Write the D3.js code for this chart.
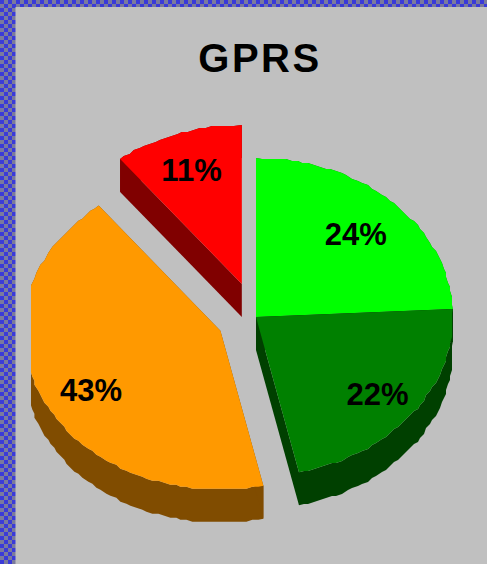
<!DOCTYPE html>
<html lang="en">
<head>
    <meta charset="UTF-8">
    <title>GPRS</title>
    <script src="https://cdn.jsdelivr.net/npm/d3@7"></script>
    <style>
        html, body { margin: 0; padding: 0; background: #c0c0c0; }
        svg { display: block; }
        text { font-family: 'Liberation Sans', Arial, sans-serif; font-weight: bold; fill: #000; }
    </style>
</head>
<body>
<script>
    const title = "GPRS";
    const slices = ["green", "dark green", "orange", "red"];
    const values = [24.2, 22.3, 42.9, 10.6];
    const labels = ["24%", "22%", "43%", "11%"];
    const explode = [0, 0, 0.2, 0.22];
    const topColors = ["#00ff00", "#008000", "#ff9900", "#ff0000"];
    const sideColors = ["#008000", "#004000", "#804c00", "#800000"];

    const width = 487, height = 564;
    const cx = 256, cy = 317, rx = 197, ry = 159, depth = 33;
    const labelNudge = [[-2, 3], [4, 5], [4, 8], [-2, -1]];

    const svg = d3.select("body").append("svg").attr("width", width).attr("height", height);
    const defs = svg.append("defs");

    // dithered blue slide background
    const cell = 4;
    const pattern = defs.append("pattern")
        .attr("id", "dither")
        .attr("patternUnits", "userSpaceOnUse")
        .attr("width", cell * 2).attr("height", cell * 2);
    pattern.append("rect").attr("width", cell * 2).attr("height", cell * 2).attr("fill", "#7a7a9c");
    pattern.append("rect").attr("width", cell).attr("height", cell).attr("fill", "#3a3ad8");
    pattern.append("rect").attr("x", cell).attr("y", cell).attr("width", cell).attr("height", cell).attr("fill", "#3a3ad8");

    // the original plot area cuts the pie off on the left
    defs.append("clipPath").attr("id", "plot")
        .append("rect").attr("x", 31).attr("y", 0).attr("width", width).attr("height", height);

    svg.append("rect").attr("width", width).attr("height", height).attr("fill", "url(#dither)");
    svg.append("rect").attr("x", 15.5).attr("y", 7).attr("width", width).attr("height", height).attr("fill", "#c0c0c0");

    svg.append("text")
        .attr("x", 260).attr("y", 72)
        .attr("text-anchor", "middle")
        .attr("font-size", 40)
        .attr("letter-spacing", 2.5)
        .text(title);

    const pie = d3.pie().sort(null).value(d => d)(values);

    const px = a => rx * Math.sin(a);
    const py = a => -ry * Math.cos(a);
    const line = d3.line();

    // stepped rim, the source picture is not a clean ellipse
    const snap = v => Math.round(v / 2) * 2;
    function rim(d) {
        const inner = d3.range(d.startAngle + 0.03, d.endAngle - 0.015, 0.03)
            .map(a => [snap(px(a)), snap(py(a))]);
        return [[px(d.startAngle), py(d.startAngle)], ...inner, [px(d.endAngle), py(d.endAngle)]];
    }
    const drop = pts => pts.map(p => [p[0], p[1] + depth]);

    const pieLayer = svg.append("g").attr("clip-path", "url(#plot)");

    const groups = pieLayer.selectAll("g.slice")
        .data(pie)
        .join("g")
        .attr("class", "slice")
        .attr("transform", (d, i) => {
            const mid = (d.startAngle + d.endAngle) / 2;
            return `translate(${cx + explode[i] * px(mid)},${cy + explode[i] * py(mid)})`;
        });

    // walls first
    groups.append("path")
        .attr("d", d => line([...rim(d), ...drop(rim(d)).reverse()]) + "Z")
        .attr("fill", (d, i) => sideColors[i]);
    groups.append("path")
        .attr("d", d => line([[0, 0], rim(d)[0], drop(rim(d))[0], [0, depth]]) + "Z")
        .attr("fill", (d, i) => sideColors[i]);
    groups.append("path")
        .attr("d", d => line([[0, 0], rim(d).at(-1), drop(rim(d)).at(-1), [0, depth]]) + "Z")
        .attr("fill", (d, i) => sideColors[i]);

    // top face
    groups.append("path")
        .attr("d", d => line([[0, 0], ...rim(d)]) + "Z")
        .attr("fill", (d, i) => topColors[i]);

    groups.append("text")
        .attr("x", (d, i) => 0.75 * px((d.startAngle + d.endAngle) / 2) + labelNudge[i][0])
        .attr("y", (d, i) => 0.75 * py((d.startAngle + d.endAngle) / 2) + 11 + labelNudge[i][1])
        .attr("text-anchor", "middle")
        .attr("font-size", 31)
        .text((d, i) => labels[i]);
</script>
</body>
</html>
